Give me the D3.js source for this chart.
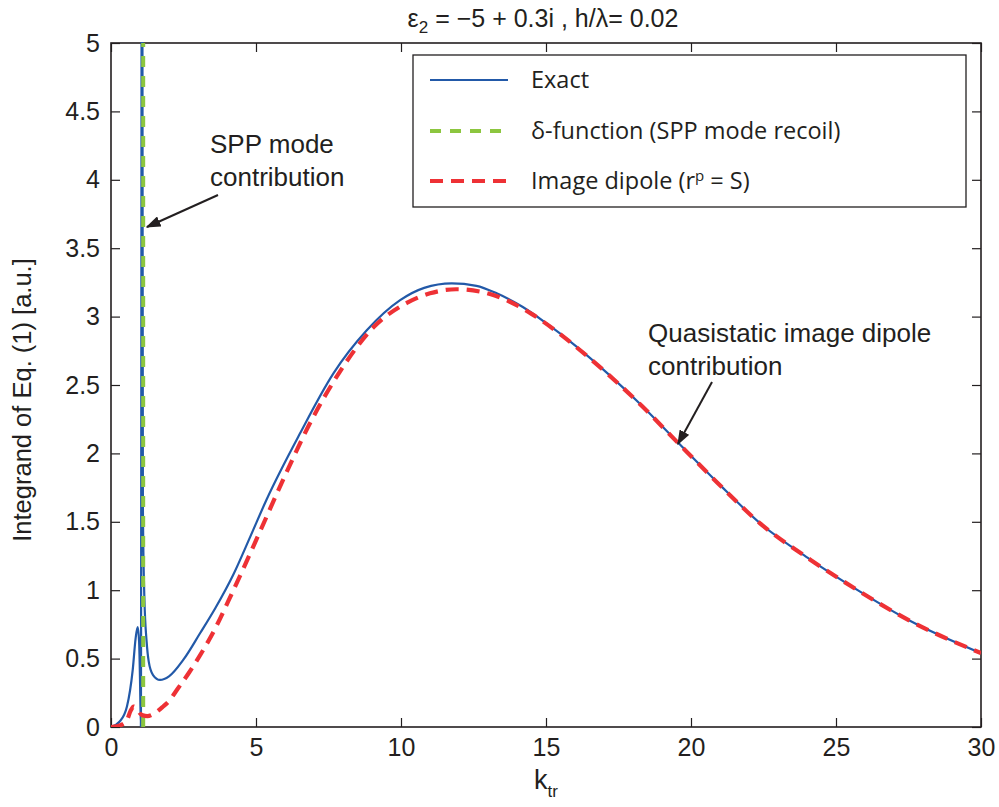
<!DOCTYPE html>
<html>
<head>
<meta charset="utf-8">
<script src="https://cdn.jsdelivr.net/npm/d3@7"></script>
<style>
  body { margin: 0; background: #fff; }
  svg text { fill: #231f20; }
</style>
</head>
<body>
<div id="chart"></div>
<script>
// values
const exactK = [0, 0.3, 0.55, 0.75, 0.85, 0.92, 0.97, 1.0, 1.03, 1.07, 1.1, 1.15, 1.23, 1.3, 1.45, 1.69, 2.0, 2.49, 3.07, 3.6, 4.22, 4.8, 5.37, 6.52, 7.67, 8.82, 9.97, 10.8, 11.75, 12.6, 13.3, 14.2, 15.02, 16.0, 17.2, 18.3, 19.5, 20.9, 22.38, 24.1, 25.83, 27.55, 30];
const exactVals = [0, 0.04, 0.15, 0.42, 0.65, 0.73, 0.62, 0.35, 0.0, 8.0, 1.6, 0.95, 0.62, 0.48, 0.38, 0.344, 0.37, 0.49, 0.685, 0.87, 1.115, 1.39, 1.665, 2.147, 2.585, 2.90, 3.12, 3.21, 3.243, 3.225, 3.17, 3.07, 2.95, 2.79, 2.57, 2.35, 2.09, 1.79, 1.49, 1.226, 0.99, 0.777, 0.54];

const imageK = [0, 0.2, 0.4, 0.55, 0.68, 0.78, 0.9, 1.0, 1.1, 1.25, 1.5, 1.8, 2.0, 2.3, 2.7, 3.0, 3.47, 4.22, 5.14, 5.94, 6.86, 7.9, 9.04, 10.2, 11.0, 11.9, 12.8, 13.53, 14.5, 15.5, 16.0, 17.2, 18.3, 19.5, 20.9, 22.38, 24.1, 25.83, 27.55, 30];
const imageVals = [0, 0.005, 0.02, 0.05, 0.12, 0.15, 0.13, 0.1, 0.085, 0.08, 0.1, 0.15, 0.19, 0.28, 0.4, 0.5, 0.67, 1.0, 1.43, 1.81, 2.22, 2.6, 2.92, 3.1, 3.17, 3.2, 3.18, 3.13, 3.02, 2.87, 2.785, 2.567, 2.348, 2.088, 1.788, 1.489, 1.225, 0.989, 0.776, 0.54];

const deltaK = 1.11;   // SPP recoil delta function position
const deltaVals = [0, 5];

const xTicks = [0, 5, 10, 15, 20, 25, 30];
const yTicks = [0, 0.5, 1, 1.5, 2, 2.5, 3, 3.5, 4, 4.5, 5];

const legendLabels = ["Exact", "δ-function (SPP mode recoil)", "Image dipole (r"];

const W = 999, H = 807;
const margin = {top: 43, right: 18, bottom: 80, left: 111};
const font = "'Liberation Sans', Arial, sans-serif";
const ink = "#231f20";
const blue = "#2259a8", green = "#8cc63f", red = "#ee3135";

const svg = d3.select("#chart").append("svg")
    .attr("width", W).attr("height", H);

const x = d3.scaleLinear().domain([0, 30]).range([margin.left, W - margin.right]);
const y = d3.scaleLinear().domain([0, 5]).range([H - margin.bottom, margin.top]);

const defs = svg.append("defs");
defs.append("clipPath").attr("id", "plotclip")
  .append("rect")
    .attr("x", x(0)).attr("y", y(5) - 1)
    .attr("width", x(30) - x(0)).attr("height", y(0) - y(5) + 1);

// axes, ticks inside like MATLAB
const tickLen = 9;
function styleAxis(g) {
  g.select(".domain").remove();
  g.selectAll(".tick line").attr("stroke", ink).attr("stroke-width", 1.2);
  g.selectAll(".tick text").attr("font-family", font).attr("font-size", 25).attr("fill", ink);
}
svg.append("g").attr("transform", `translate(0,${y(0)})`)
  .call(d3.axisBottom(x).tickValues(xTicks).tickSizeInner(-tickLen).tickSizeOuter(0).tickPadding(11).tickFormat(d3.format("d")))
  .call(styleAxis);
svg.append("g").attr("transform", `translate(0,${y(5)})`)
  .call(d3.axisTop(x).tickValues(xTicks).tickSizeInner(-tickLen).tickSizeOuter(0).tickFormat(""))
  .call(styleAxis);
svg.append("g").attr("transform", `translate(${x(0)},0)`)
  .call(d3.axisLeft(y).tickValues(yTicks).tickSizeInner(-tickLen).tickSizeOuter(0).tickPadding(11).tickFormat(d => String(d)))
  .call(styleAxis);
svg.append("g").attr("transform", `translate(${x(30)},0)`)
  .call(d3.axisRight(y).tickValues(yTicks).tickSizeInner(-tickLen).tickSizeOuter(0).tickFormat(""))
  .call(styleAxis);

// frame
svg.append("rect")
  .attr("x", x(0)).attr("y", y(5))
  .attr("width", x(30) - x(0)).attr("height", y(0) - y(5))
  .attr("fill", "none").attr("stroke", ink).attr("stroke-width", 1.6);

const plot = svg.append("g").attr("clip-path", "url(#plotclip)");

const line = d3.line().x(d => x(d[0])).y(d => y(d[1])).curve(d3.curveMonotoneX);

plot.append("path")
  .attr("d", line(d3.zip(exactK, exactVals)))
  .attr("fill", "none").attr("stroke", blue).attr("stroke-width", 2.2);

plot.append("path")
  .attr("d", d3.line().x(d => x(d[0])).y(d => y(d[1]))(deltaVals.map(v => [deltaK, v])))
  .attr("fill", "none").attr("stroke", green).attr("stroke-width", 4)
  .attr("stroke-dasharray", "11,9");

plot.append("path")
  .attr("d", line(d3.zip(imageK, imageVals)))
  .attr("fill", "none").attr("stroke", red).attr("stroke-width", 4.2)
  .attr("stroke-dasharray", "13,8");

// title
const title = svg.append("text")
  .attr("x", 543).attr("y", 27).attr("text-anchor", "middle")
  .attr("font-family", font).attr("font-size", 25);
title.append("tspan").text("ε");
title.append("tspan").attr("font-size", 17).attr("dy", 6).text("2");
title.append("tspan").attr("dy", -6).text(" = −5 + 0.3i , h/λ= 0.02");

// axis labels
const xl = svg.append("text")
  .attr("x", 546).attr("y", 789).attr("text-anchor", "middle")
  .attr("font-family", font).attr("font-size", 27);
xl.append("tspan").text("k");
xl.append("tspan").attr("font-size", 17).attr("dy", 8).text("tr");

svg.append("text")
  .attr("transform", `translate(31,400) rotate(-90)`)
  .attr("text-anchor", "middle")
  .attr("font-family", font).attr("font-size", 25.5)
  .text("Integrand of Eq. (1) [a.u.]");

// legend
const lg = svg.append("g");
lg.append("rect")
  .attr("x", 413).attr("y", 55).attr("width", 553).attr("height", 152)
  .attr("fill", "#fff").attr("stroke", ink).attr("stroke-width", 1.3);
const legendRows = [
  {y: 80, color: blue, width: 2.2, dash: null},
  {y: 131, color: green, width: 4, dash: "11,9"},
  {y: 181, color: red, width: 4.2, dash: "13,8"}
];
legendRows.forEach((r, i) => {
  lg.append("line")
    .attr("x1", 430).attr("x2", 508).attr("y1", r.y).attr("y2", r.y)
    .attr("stroke", r.color).attr("stroke-width", r.width)
    .attr("stroke-dasharray", r.dash);
  const t = lg.append("text")
    .attr("x", 531).attr("y", r.y + 8)
    .attr("font-family", "'Open Sans', 'Noto Sans', sans-serif").attr("font-size", 23.5)
    .text(legendLabels[i]);
  if (i === 2) {
    t.append("tspan").attr("font-size", 15).attr("dy", -8).text("p");
    t.append("tspan").attr("dy", 8).text(" = S)");
  }
});

// annotations
defs.append("marker")
  .attr("id", "arrow").attr("viewBox", "0 0 10 10")
  .attr("refX", 9).attr("refY", 5)
  .attr("markerWidth", 15).attr("markerHeight", 11)
  .attr("markerUnits", "userSpaceOnUse")
  .attr("orient", "auto")
  .attr("preserveAspectRatio", "none")
  .append("path").attr("d", "M0,0 L10,5 L0,10 Z").attr("fill", ink);

function note(lines, tx, ty, from, to) {
  const t = svg.append("text").attr("font-family", font).attr("font-size", 26);
  lines.forEach((s, i) => t.append("tspan").attr("x", tx).attr("y", ty + i * 32.5).text(s));
  svg.append("line")
    .attr("x1", from[0]).attr("y1", from[1]).attr("x2", to[0]).attr("y2", to[1])
    .attr("stroke", ink).attr("stroke-width", 2)
    .attr("marker-end", "url(#arrow)");
}
note(["SPP mode", "contribution"], 210, 153, [218, 195], [147, 227]);
note(["Quasistatic image dipole", "contribution"], 648, 342, [712, 382], [678, 444]);
</script>
</body>
</html>
